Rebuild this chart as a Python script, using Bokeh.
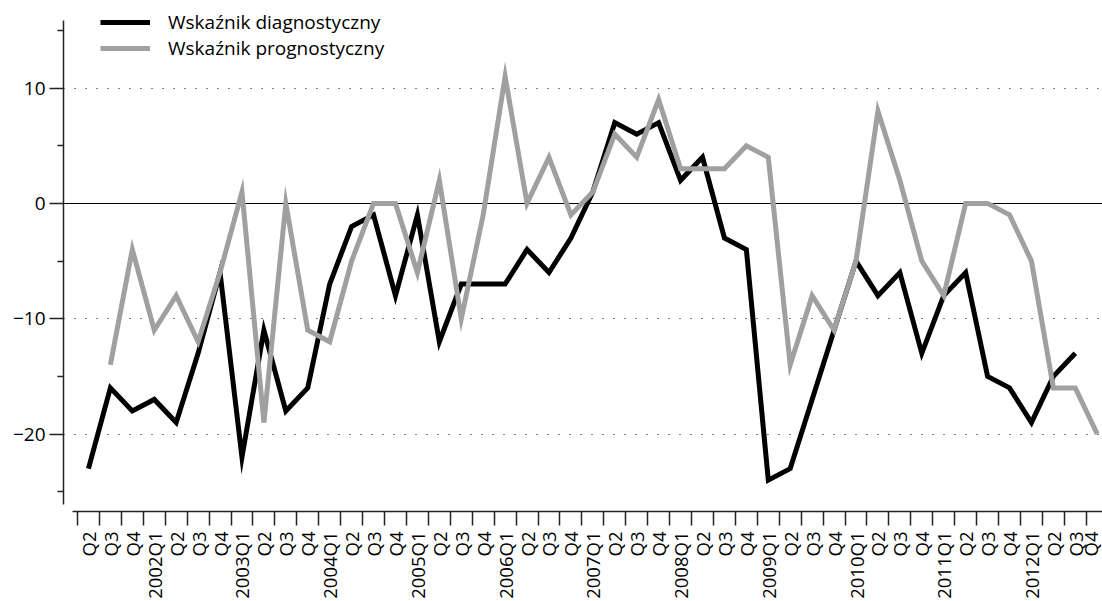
import math
import numpy as np
from bokeh.plotting import figure
from bokeh.models import Range1d, FixedTicker, Grid, ColumnDataSource
from bokeh.embed import file_html
from bokeh.resources import INLINE

# Quarters 2001Q2 .. 2012Q4
quarters = ["Q2", "Q3", "Q4",
            "2002Q1", "Q2", "Q3", "Q4",
            "2003Q1", "Q2", "Q3", "Q4",
            "2004Q1", "Q2", "Q3", "Q4",
            "2005Q1", "Q2", "Q3", "Q4",
            "2006Q1", "Q2", "Q3", "Q4",
            "2007Q1", "Q2", "Q3", "Q4",
            "2008Q1", "Q2", "Q3", "Q4",
            "2009Q1", "Q2", "Q3", "Q4",
            "2010Q1", "Q2", "Q3", "Q4",
            "2011Q1", "Q2", "Q3", "Q4",
            "2012Q1", "Q2", "Q3", "Q4"]

diagnostyczny = [-23, -16, -18,
                 -17, -19, -13, -6,
                 -22, -11, -18, -16,
                 -7, -2, -1, -8,
                 -1, -12, -7, -7,
                 -7, -4, -6, -3,
                 1, 7, 6, 7,
                 2, 4, -3, -4,
                 -24, -23, -17, -11,
                 -5, -8, -6, -13,
                 -8, -6, -15, -16,
                 -19, -15, -13, None]

prognostyczny = [None, -14, -4,
                 -11, -8, -12, -6,
                 1, -19, 0, -11,
                 -12, -5, 0, 0,
                 -6, 2, -10, -1,
                 11, 0, 4, -1,
                 1, 6, 4, 9,
                 3, 3, 3, 5,
                 4, -14, -8, -11,
                 -5, 8, 2, -5,
                 -8, 0, 0, -1,
                 -5, -16, -16, -20]

y_major = [-20, -10, 0, 10]
y_minor = [-25, -15, -5, 5, 15]
y_labels = {-20: "\u221220", -10: "\u221210", 0: "0", 10: "10"}

FONT = "Open Sans"

n = len(quarters)
idx = list(range(n))
to_f = lambda v: np.nan if v is None else float(v)
src = ColumnDataSource(dict(
    x=idx,
    d=[to_f(v) for v in diagnostyczny],
    g=[to_f(v) for v in prognostyczny],
))

p = figure(width=1102, height=601,
           x_range=Range1d(-1.138, 46.24), y_range=Range1d(-26.72, 16.9),
           output_backend="svg", toolbar_location=None,
           min_border_left=63, min_border_right=0, min_border_top=8,
           min_border_bottom=87)
p.outline_line_color = None
p.background_fill_color = "white"
p.border_fill_color = "white"

p.line("x", "d", source=src, line_color="black", line_width=5,
       line_join="miter", legend_label="Wska\u017anik diagnostyczny")
p.line("x", "g", source=src, line_color="#a0a0a0", line_width=5,
       line_join="miter", legend_label="Wska\u017anik prognostyczny")

# x axis
xa = p.xaxis[0]
xa.ticker = FixedTicker(ticks=idx, minor_ticks=[i - 0.5 for i in range(n + 1)])
xa.major_label_overrides = {i: q for i, q in enumerate(quarters)}
xa.major_tick_line_color = None
xa.major_tick_out = 14
xa.major_tick_in = 0
xa.minor_tick_out = 14
xa.minor_tick_in = 0
xa.minor_tick_line_color = "#222222"
xa.minor_tick_line_width = 1.5
xa.axis_line_color = "#222222"
xa.axis_line_width = 1.5
xa.major_label_orientation = math.pi / 2
xa.major_label_standoff = 6
xa.major_label_text_font = FONT
xa.major_label_text_font_size = "18.5px"
xa.major_label_text_color = "black"
xa.bounds = (-0.73, 46.6)

# y axis
ya = p.yaxis[0]
ya.ticker = FixedTicker(ticks=y_major, minor_ticks=y_minor)
ya.major_label_overrides = y_labels
ya.major_tick_out = 14
ya.major_tick_in = 0
ya.minor_tick_out = 6
ya.minor_tick_in = 0
ya.major_tick_line_color = "#222222"
ya.minor_tick_line_color = "#222222"
ya.major_tick_line_width = 1.5
ya.minor_tick_line_width = 1.5
ya.axis_line_color = "#222222"
ya.axis_line_width = 1.5
ya.major_label_standoff = 4
ya.major_label_text_font = FONT
ya.major_label_text_font_size = "19px"
ya.major_label_text_color = "black"
ya.bounds = (-26.1, 15.9)

# grids
p.xgrid.visible = False
p.ygrid.ticker = FixedTicker(ticks=[-20, -10, 10])
p.ygrid.grid_line_color = "black"
p.ygrid.grid_line_width = 1.2
p.ygrid.grid_line_dash = "1 10"
p.ygrid.bounds = (-0.73, 46.6)
zero = Grid(dimension=1, ticker=FixedTicker(ticks=[0]),
            grid_line_color="black", grid_line_width=1, bounds=(-0.73, 46.6))
p.add_layout(zero)

# legend
lg = p.legend[0]
lg.location = (37, 450)
lg.border_line_color = None
lg.background_fill_alpha = 0
lg.glyph_width = 50
lg.glyph_height = 26
lg.label_height = 26
lg.label_standoff = 18
lg.spacing = 0
lg.padding = 0
lg.margin = 0
lg.label_text_font = FONT
lg.label_text_font_size = "19px"
lg.label_text_color = "black"

open("out.html", "w").write(file_html(p, INLINE))
